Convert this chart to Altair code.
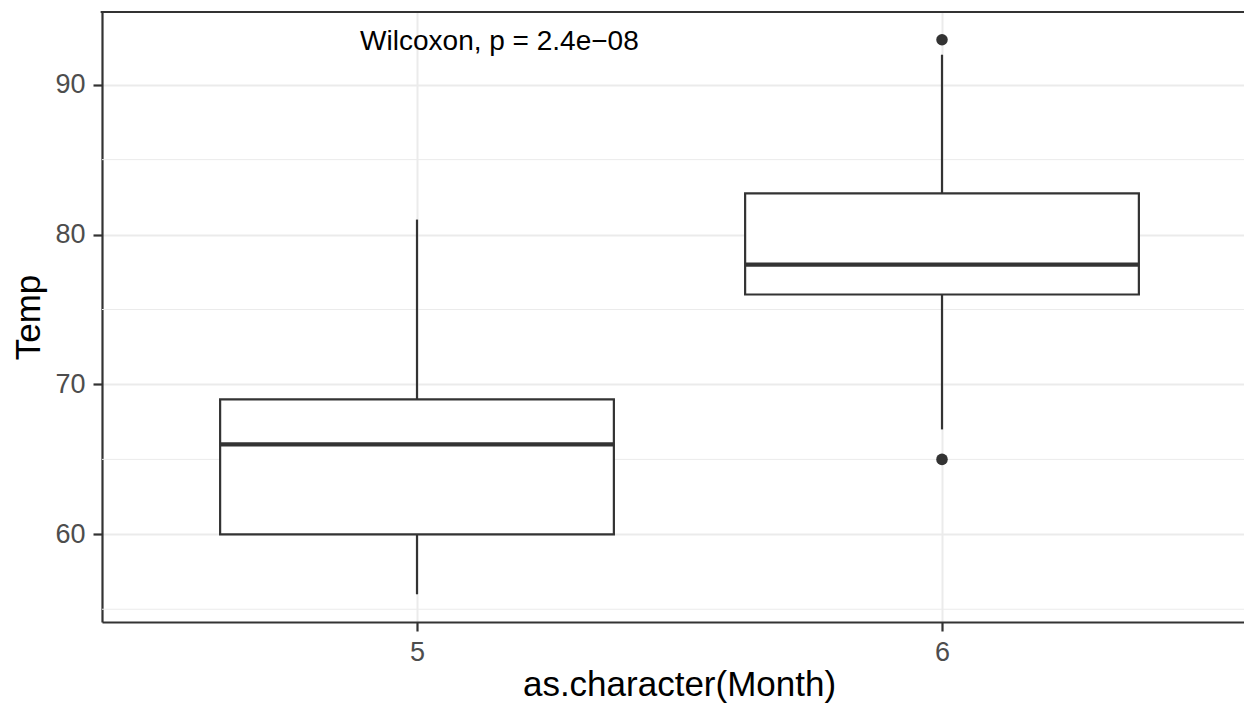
import altair as alt
import pandas as pd

# ---- data ----
months = ["5", "6"]
positions = [1, 2]
whisker_low = [56, 67]
q1 = [60, 76]
median = [66, 78]
q3 = [69, 82.75]
whisker_high = [81, 92]

outlier_pos = [2, 2]
outlier_temp = [65, 93]

y_major = [60, 70, 80, 90]
y_minor = [55, 65, 75, 85]

annotation_text = ["Wilcoxon, p = 2.4e\u221208"]
annotation_x = [1.157]
annotation_y = [92.32]

# ---- tables ----
box_half = 0.375
boxes = pd.DataFrame({
    "month": months, "pos": positions, "lower": whisker_low, "q1": q1,
    "median": median, "q3": q3, "upper": whisker_high,
})
boxes["left"] = boxes["pos"] - box_half
boxes["right"] = boxes["pos"] + box_half
outliers = pd.DataFrame({"pos": outlier_pos, "temp": outlier_temp})
minor = pd.DataFrame({"v": y_minor})
ann = pd.DataFrame({"ax": annotation_x, "ay": annotation_y, "label": annotation_text})

FONT = "Liberation Sans"
DARK = "#333333"
GRID = "#EBEBEB"

W, H = 1142, 610
xscale = alt.Scale(domain=[0.4, 0.4 + W / 525.0], nice=False, zero=False)
yscale = alt.Scale(domain=[54.15, 94.85], nice=False, zero=False)

label_expr = " : ".join(
    [f"datum.value == {p} ? '{m}'" for p, m in zip(positions, months)]
) + " : ''"

xaxis = alt.Axis(
    values=positions, labelExpr=label_expr, title="as.character(Month)",
    grid=True, gridColor=GRID, gridWidth=2,
    labelBaseline="alphabetic", labelPadding=29, labelFlush=False,
    titleX=577, titleY=73, titleBaseline="alphabetic", titleAlign="center",
)
yaxis = alt.Axis(
    values=y_major, title="Temp", grid=True, gridColor=GRID, gridWidth=2,
    labelAlign="right", labelBaseline="middle", labelPadding=8,
    titleX=-62.5, titleY=305, titleAngle=270, titleAlign="center",
    titleBaseline="alphabetic",
)


def X(f):
    return alt.X(f, type="quantitative", scale=xscale, axis=xaxis)


def Y(f):
    return alt.Y(f, type="quantitative", scale=yscale, axis=yaxis)


minor_grid = alt.Chart(minor).mark_rule(color=GRID, strokeWidth=1).encode(y=Y("v"))

top_border = alt.Chart(minor).mark_rule(color=DARK, strokeWidth=2.2, strokeCap="square").encode(
    x=alt.value(0), x2=alt.value("width"), y=alt.value(0)
)

base = alt.Chart(boxes)
whisk_lo = base.mark_rule(color=DARK, strokeWidth=2.2).encode(x=X("pos"), y=Y("lower"), y2="q1")
whisk_hi = base.mark_rule(color=DARK, strokeWidth=2.2).encode(x=X("pos"), y=Y("q3"), y2="upper")
box = base.mark_rect(fill="white", stroke=DARK, strokeWidth=2.2).encode(
    x=X("left"), x2="right", y=Y("q1"), y2="q3"
)
med = base.mark_rule(color=DARK, strokeWidth=4.3).encode(x=X("left"), x2="right", y=Y("median"))

pts = alt.Chart(outliers).mark_circle(size=133, color=DARK, opacity=1).encode(
    x=X("pos"), y=Y("temp")
)

label = alt.Chart(ann).mark_text(
    font=FONT, fontSize=28, color="black", align="center", baseline="alphabetic"
).encode(x=X("ax"), y=Y("ay"), text="label:N")

chart = alt.layer(
    minor_grid, whisk_lo, whisk_hi, box, med, pts, label, top_border
).properties(
    width=W, height=H,
    autosize=alt.AutoSizeParams(type="none"),
    padding={"left": 94, "top": 4, "right": 0, "bottom": 82},
).configure_view(stroke=None).configure_axis(
    domainColor=DARK, domainWidth=2.2, tickColor=DARK, tickWidth=2.2, tickSize=9,
    labelFont=FONT, labelFontSize=27, labelColor="#4D4D4D",
    titleFont=FONT, titleFontSize=35, titleColor="black", titleFontWeight="normal",
)

chart.save("out.html", embed_options={"renderer": "svg", "actions": False})
